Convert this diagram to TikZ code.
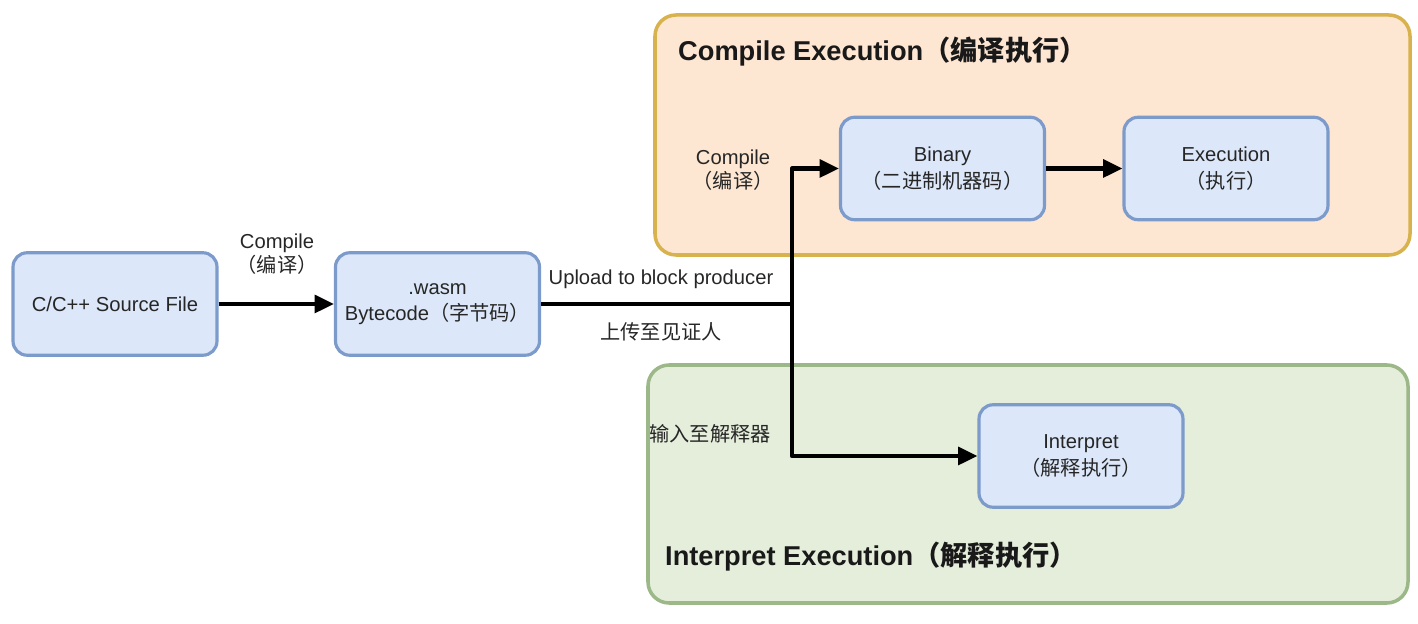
\documentclass[tikz,border=0pt]{standalone}
\usepackage{fontspec}
\setmainfont{Liberation Sans}
\newfontfamily\cjk{Noto Sans CJK SC}
\usetikzlibrary{arrows.meta}
\definecolor{boxfill}{HTML}{DCE7F9}
\definecolor{boxline}{HTML}{7C9BCB}
\definecolor{orfill}{HTML}{FDE6D2}
\definecolor{orline}{HTML}{D8B24C}
\definecolor{grfill}{HTML}{E4EEDB}
\definecolor{grline}{HTML}{9DB888}
\definecolor{txt}{HTML}{262626}
\tikzset{
  procbox/.style={draw=boxline,fill=boxfill,line width=1.8pt,rounded corners=8pt,
    minimum width=4.08cm,minimum height=2.05cm,align=center,text=txt,
    font=\fontsize{11.5}{15}\selectfont},
  container/.style={line width=2pt,rounded corners=12pt},
  lbl/.style={align=center,text=txt,font=\fontsize{11.5}{14}\selectfont},
  ttl/.style={anchor=west,text=black!90,font=\fontsize{15.5}{18}\selectfont\bfseries},
  conn/.style={line width=2.4pt,black,line join=round},
  arr/.style={conn,-{Triangle[length=11pt,width=10pt]}}
}
\begin{document}
\begin{tikzpicture}[x=0.02cm,y=-0.02cm]
\useasboundingbox (0,0) rectangle (1418,624);
% containers
\draw[container,draw=orline,fill=orfill] (655,15) rectangle (1410,255);
\draw[container,draw=grline,fill=grfill] (648,365) rectangle (1408,603);
\node[ttl] (t1) at (672,52) {Compile Execution{\cjk （编译执行）}};
\node[ttl] (t2) at (659,557) {Interpret Execution{\cjk （解释执行）}};
% boxes
\node[procbox] (src) at (115,304) {C/C++ Source File};
\node[procbox] (wasm) at (437.5,304) {.wasm\\Bytecode{\cjk （字节码）}};
\node[procbox] (bin) at (942.5,168.5) {Binary\\{\cjk （二进制机器码）}};
\node[procbox] (exe) at (1226,168.5) {Execution\\{\cjk （执行）}};
\node[procbox] (int) at (1081,456) {Interpret\\{\cjk （解释执行）}};
% connectors
\coordinate (j) at (792,304);
\draw[arr] (src) -- (wasm);
\draw[conn] (wasm.east) -- (j);
\draw[arr] (j) |- (bin.west);
\draw[arr] (j) |- (int.west);
\draw[arr] (bin) -- (exe);
% labels
\node[lbl] (l1) at (277,254) {Compile\\{\cjk （编译）}};
\node[lbl] (l2) at (661,279) {Upload to block producer};
\node[lbl] (l3) at (661,332) {\cjk 上传至见证人};
\node[lbl] (l4) at (733,170) {Compile\\{\cjk （编译）}};
\node[lbl] (l5) at (710,434) {\cjk 输入至解释器};
\end{tikzpicture}
\end{document}
